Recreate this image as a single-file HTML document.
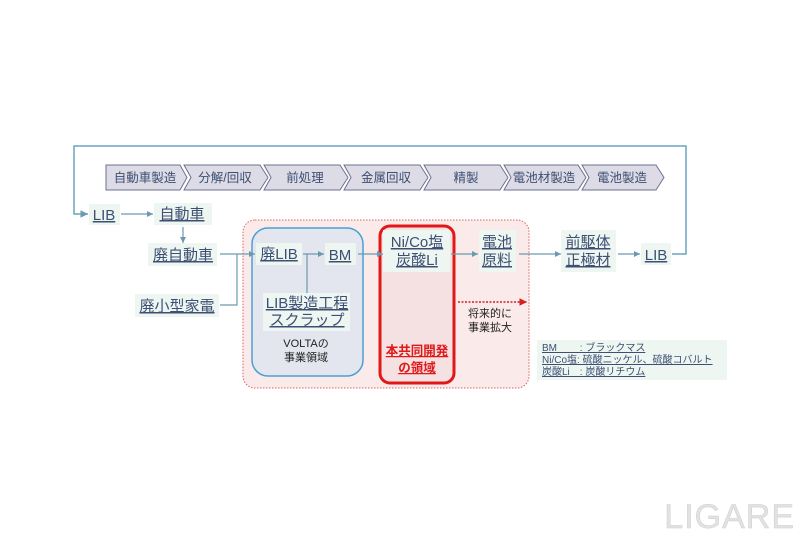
<!DOCTYPE html>
<html><head><meta charset="utf-8"><style>
html,body{margin:0;padding:0;background:#fff;}
svg{display:block;font-family:"Liberation Sans","Noto Sans CJK JP",sans-serif;}
.l{fill:#3d4f73;font-size:15px;text-decoration:underline;}
.c{fill:#3d4f73;font-size:12.5px;}
</style></head><body>
<svg width="800" height="533" viewBox="0 0 800 533" xmlns="http://www.w3.org/2000/svg">
<defs>
<marker id="a" markerWidth="6" markerHeight="6" refX="5" refY="3" orient="auto"><path d="M0,0.5 L5,3 L0,5.5z" fill="#6a9ab0"/></marker>
<marker id="r" markerWidth="6" markerHeight="6" refX="5" refY="3" orient="auto"><path d="M0,0.5 L5,3 L0,5.5z" fill="#d42020"/></marker>
</defs>
<rect width="800" height="533" fill="#fff"/>
<polyline points="672,254 686,254 686,146 74,146 74,214 88,214" fill="none" stroke="#6aa6c4" stroke-width="1.5" marker-end="url(#a)"/>
<g fill="#dcdbe6" stroke="#6b7290" stroke-width="1">
<polygon points="106,165 180,165 187,177.5 180,190 106,190"/>
<polygon points="184,165 260,165 268,177.5 260,190 184,190 191,177.5"/>
<polygon points="264,165 340,165 348,177.5 340,190 264,190 271,177.5"/>
<polygon points="344,165 420,165 428,177.5 420,190 344,190 351,177.5"/>
<polygon points="424,165 500,165 508,177.5 500,190 424,190 431,177.5"/>
<polygon points="504,165 578,165 586,177.5 578,190 504,190 511,177.5"/>
<polygon points="582,165 656,165 664,177.5 656,190 582,190 589,177.5"/>
</g>
<g class="c" text-anchor="middle" font-size="13">
<text x="145" y="182">自動車製造</text><text x="225" y="182">分解/回収</text><text x="305" y="182">前処理</text><text x="386" y="182">金属回収</text><text x="466" y="182">精製</text><text x="544" y="182">電池材製造</text><text x="622" y="182">電池製造</text>
</g>
<rect x="243" y="220" width="286" height="168" rx="12" fill="#fbeaea" stroke="#e06060" stroke-width="1" stroke-dasharray="1.5,1.5"/>
<rect x="252" y="228" width="111" height="148" rx="16" fill="#e3e6ee" stroke="#4aa0d4" stroke-width="1.5"/>
<rect x="380" y="226" width="74" height="157" rx="10" fill="#f5e0e2" stroke="#e01818" stroke-width="3"/>
<rect x="537" y="340" width="190" height="40" fill="#eef6f2"/>
<g fill="#eef6f2">
<rect x="89" y="204" width="31" height="21"/><rect x="154" y="203" width="58" height="22"/>
<rect x="148" y="243" width="69" height="23"/><rect x="135" y="294" width="84" height="23"/>
<rect x="256" y="243" width="46" height="22"/><rect x="325" y="243" width="31" height="22"/>
<rect x="263" y="293" width="87" height="38"/>
<rect x="383" y="230" width="67" height="42"/><rect x="479" y="230" width="37" height="42"/>
<rect x="561" y="230" width="55" height="42"/><rect x="641" y="243" width="30" height="22"/>
</g>
<g fill="none" stroke="#6a9ab0" stroke-width="1.2">
<line x1="121" y1="214" x2="153" y2="214" marker-end="url(#a)"/>
<line x1="183" y1="227" x2="183" y2="243" marker-end="url(#a)"/>
<line x1="220" y1="254" x2="255" y2="254" marker-end="url(#a)"/>
<polyline points="220,305 237,305 237,254"/>
<line x1="303" y1="254" x2="324" y2="254" marker-end="url(#a)"/>
<line x1="307" y1="254" x2="307" y2="293"/>
<line x1="358" y1="254" x2="383" y2="254" marker-end="url(#a)"/>
<line x1="451" y1="254" x2="478" y2="254" marker-end="url(#a)"/>
<line x1="519" y1="254" x2="561" y2="254" marker-end="url(#a)"/>
<line x1="618" y1="254" x2="640" y2="254" marker-end="url(#a)"/>
</g>
<line x1="458" y1="302" x2="527" y2="302" stroke="#d42020" stroke-width="1.5" stroke-dasharray="2,1.5" marker-end="url(#r)"/>
<g class="l" text-anchor="middle">
<text x="104" y="220">LIB</text><text x="182" y="219">自動車</text>
<text x="183" y="260">廃自動車</text><text x="177" y="311">廃小型家電</text>
<text x="279" y="259">廃LIB</text><text x="340" y="260">BM</text>
<text x="307" y="308">LIB製造工程</text><text x="307" y="325">スクラップ</text>
<text x="417" y="247">Ni/Co塩</text><text x="417" y="265">炭酸Li</text>
<text x="497" y="247">電池</text><text x="497" y="265">原料</text>
<text x="588" y="247">前駆体</text><text x="588" y="265">正極材</text>
<text x="656" y="260">LIB</text>
</g>
<g text-anchor="middle" font-size="11" fill="#222">
<text x="306" y="347">VOLTAの</text><text x="306" y="361">事業領域</text>
<text x="490" y="317">将来的に</text><text x="490" y="331">事業拡大</text>
</g>
<g text-anchor="middle" font-size="12.5" font-weight="bold" fill="#e01818" text-decoration="underline">
<text x="417" y="355">本共同開発</text><text x="417" y="372">の領域</text>
</g>
<g font-size="10" fill="#3d4f73" text-decoration="underline">
<text x="542" y="351">BM　　 : ブラックマス</text>
<text x="542" y="363">Ni/Co塩: 硫酸ニッケル、硫酸コバルト</text>
<text x="542" y="375">炭酸Li　: 炭酸リチウム</text>
</g>
<text x="795" y="528" text-anchor="end" font-size="34" fill="#e2e2e2" stroke="#cfcfcf" stroke-width="0.5" letter-spacing="1">LIGARE</text>
</svg>
</body></html>
